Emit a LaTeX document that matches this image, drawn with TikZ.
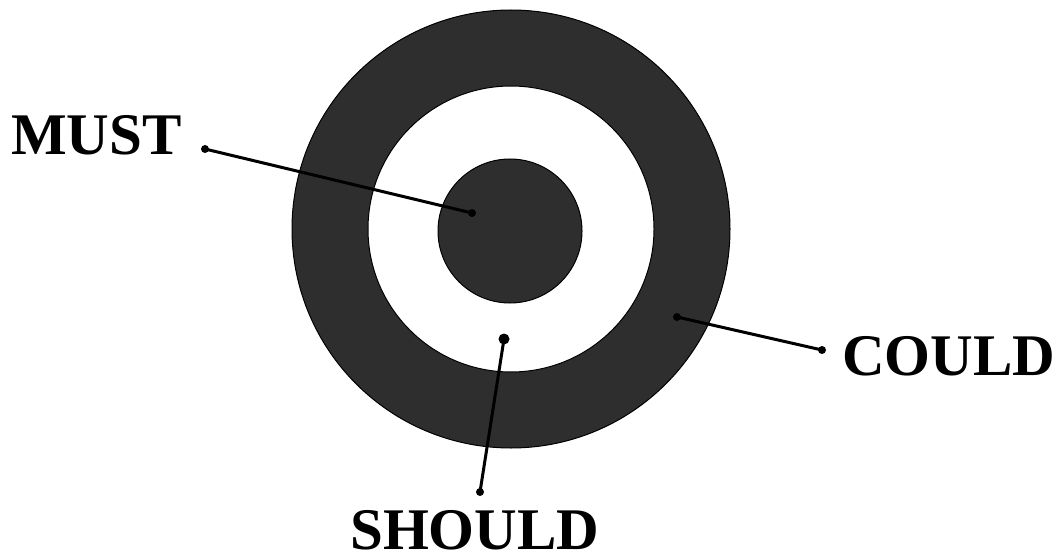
\documentclass[tikz,border=0pt]{standalone}
\usepackage{fontspec}
\setmainfont{Liberation Serif}
\begin{document}
\begin{tikzpicture}[x=1pt,y=-1pt,
  ring/.style={fill=black!82,draw=black,line width=1pt},
  hole/.style={fill=white,draw=black,line width=1pt},
  lbl/.style={font=\fontsize{59}{59}\selectfont\bfseries,inner sep=0pt,anchor=base west},
  pin/.style={circle,fill=black,inner sep=0pt,minimum size=8pt},
  lead/.style={line width=3pt,line cap=round}]
\useasboundingbox[fill=white] (0,0) rectangle (1063,559);
\fill[ring] (511,229) circle (219);
\fill[hole] (511,229) circle (143);
\fill[ring] (510,231) circle (72);
\node[lbl] (must) at (11,155) {MUST};
\node[lbl] (could) at (842,375) {COULD};
\node[lbl] (should) at (350,549) {SHOULD};
\node[pin] (m1) at (205,149) {};
\node[pin] (m2) at (472,213) {};
\node[pin] (c1) at (822,350) {};
\node[pin] (c2) at (677,317) {};
\node[pin,minimum size=11pt] (s1) at (504,339) {};
\node[pin] (s2) at (480,492) {};
\draw[lead] (m1.center) -- (m2.center);
\draw[lead] (c1.center) -- (c2.center);
\draw[lead] (s1.center) -- (s2.center);
\end{tikzpicture}
\end{document}
